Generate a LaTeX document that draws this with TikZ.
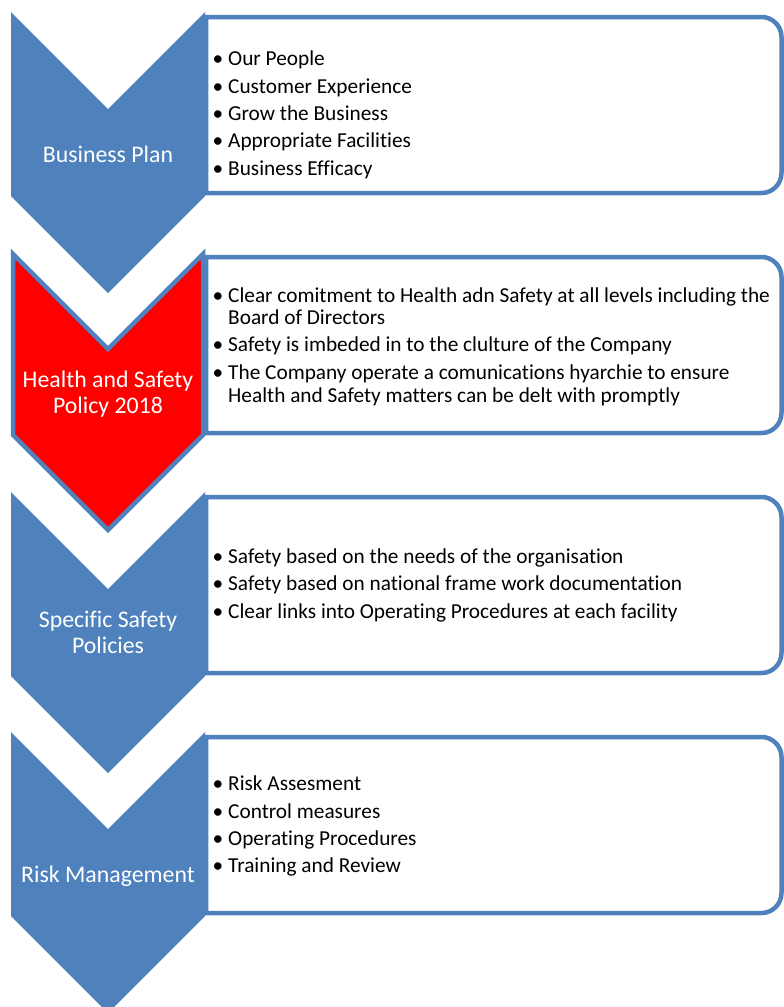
\documentclass[tikz,border=0pt]{standalone}
\usepackage{fontspec}
\setmainfont{Carlito}[Ligatures=NoCommon]
\definecolor{accent}{HTML}{4F81BD}
\definecolor{alert}{HTML}{FF0000}
\begin{document}
\begin{tikzpicture}[x=1pt,y=-1pt,
  chevfill/.style={fill=accent},
  alertchev/.style={fill=alert, draw=accent, line width=4.5pt, line join=miter},
  listbox/.style={draw=accent, fill=white, line width=4.5pt},
  chevtext/.style={anchor=base, text=white, font=\fontsize{23.8}{26}\selectfont, inner sep=0},
  listline/.style={anchor=base west, font=\fontsize{21.3}{22}\selectfont, inner sep=0},
  bulletmark/.style={anchor=base, font=\fontsize{21.3}{22}\selectfont, inner sep=0}]
\useasboundingbox (0,0) rectangle (784,1007);

% list panels: square on the left, rounded on the right
\foreach \d in {0,240,480,720}{
  \draw[listbox] (400,17+\d) [rounded corners=20pt] -- (781.5,17+\d) -- (781.5,193+\d) -- (400,193+\d)
    [sharp corners] -- (206,193+\d) -- (206,17+\d) -- cycle;
}

% chevrons
\fill[chevfill] (11,12) -- (108,109) -- (205,12) -- (205,196) -- (108,293) -- (11,196) -- cycle;
\draw[alertchev] (13,254) -- (108,349) -- (203,254) -- (203,435) -- (108,530) -- (13,435) -- cycle;
\fill[chevfill] (11,492) -- (108,589) -- (205,492) -- (205,676) -- (108,773) -- (11,676) -- cycle;
\fill[chevfill] (11,732) -- (108,829) -- (205,732) -- (205,916) -- (108,1013) -- (11,916) -- cycle;

% chevron labels
\node[chevtext] (c1) at (108,162) {Business Plan};
\node[chevtext] (c2a) at (108,387) {Health and Safety};
\node[chevtext] (c2b) at (108,413) {Policy 2018};
\node[chevtext] (c3a) at (108,627) {Specific Safety};
\node[chevtext] (c3b) at (108,653) {Policies};
\node[chevtext] (c4) at (108,882) {Risk Management};

% panel 1
\foreach \y/\t [count=\i] in {65/Our People,93/Customer Experience,120/Grow the Business,147/Appropriate Facilities,175/Business Efficacy}{
  \node[bulletmark] (b1\i) at (218,\y) {•};
  \node[listline] (t1\i) at (228,\y) {\t};
}

% panel 2
\node[bulletmark] (b21) at (218,302) {•};
\node[listline] (t21) at (228,302) {Clear comitment to Health adn Safety at all levels including the};
\node[listline] (t21b) at (228,324) {Board of Directors};
\node[bulletmark] (b22) at (218,351) {•};
\node[listline] (t22) at (228,351) {Safety is imbeded in to the clulture of the Company};
\node[bulletmark] (b23) at (218,379) {•};
\node[listline] (t23) at (228,379) {The Company operate a comunications hyarchie to ensure};
\node[listline] (t23b) at (228,402) {Health and Safety matters can be delt with promptly};

% panel 3
\foreach \y/\t [count=\i] in {563/Safety based on the needs of the organisation,590/Safety based on national frame work documentation,618/Clear links into Operating Procedures at each facility}{
  \node[bulletmark] (b3\i) at (218,\y) {•};
  \node[listline] (t3\i) at (228,\y) {\t};
}

% panel 4
\foreach \y/\t [count=\i] in {790/Risk Assesment,818/Control measures,845/Operating Procedures,872/Training and Review}{
  \node[bulletmark] (b4\i) at (218,\y) {•};
  \node[listline] (t4\i) at (228,\y) {\t};
}
\end{tikzpicture}
\end{document}
